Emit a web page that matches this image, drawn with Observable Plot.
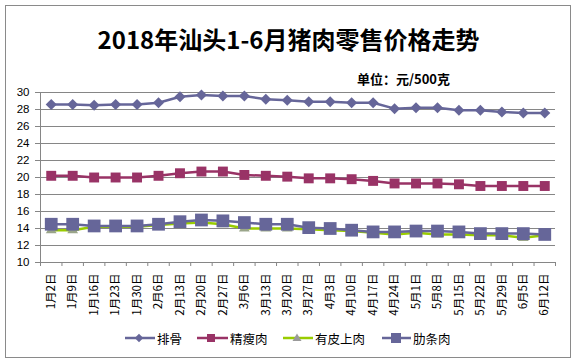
<!DOCTYPE html>
<html><head><meta charset="utf-8">
<script src="https://cdn.jsdelivr.net/npm/d3@7"></script>
<script src="https://cdn.jsdelivr.net/npm/@observablehq/plot@0.6"></script>
<style>
body{margin:0;background:#fff;}
#wrap{position:relative;width:577px;height:364px;font-family:"Noto Sans CJK SC",sans-serif;overflow:hidden;}
#border{position:absolute;left:5px;top:5px;width:566px;height:353px;border:1px solid #8a8a8a;box-sizing:border-box;}
#title{position:absolute;left:0;width:577px;top:23px;text-align:center;font-weight:bold;font-size:24px;line-height:32px;color:#000;}
#unit{position:absolute;left:357px;top:70px;font-weight:bold;font-size:13px;line-height:18px;color:#000;}
#chart{position:absolute;left:0;top:0;}
.leg{position:absolute;top:329px;height:18px;display:flex;align-items:center;font-size:12.5px;color:#000;}
.leg svg{margin-right:2px;}
</style></head>
<body>
<div id="wrap">
<div id="border"></div>
<div id="chart"></div>
<div id="title">2018年汕头1-6月猪肉零售价格走势</div>
<div id="unit">单位：元/500克</div>
<div id="legend"></div>
</div>
<script>
const dates = ["1月2日","1月9日","1月16日","1月23日","1月30日","2月6日","2月13日","2月20日","2月27日","3月6日","3月13日","3月20日","3月27日","4月3日","4月10日","4月17日","4月24日","5月1日","5月8日","5月15日","5月22日","5月29日","6月5日","6月12日"];
const paigu    = [28.6,28.6,28.5,28.6,28.6,28.8,29.5,29.7,29.6,29.6,29.2,29.1,28.9,28.9,28.8,28.8,28.1,28.2,28.2,27.9,27.9,27.7,27.6,27.6];
const jingshou = [20.2,20.2,20.0,20.0,20.0,20.2,20.5,20.7,20.7,20.3,20.2,20.1,19.9,19.9,19.8,19.6,19.3,19.3,19.3,19.2,19.0,19.0,19.0,19.0];
const youpi    = [13.8,13.8,14.2,14.2,14.2,14.4,14.6,14.7,14.5,14.0,14.0,14.0,13.9,13.8,13.7,13.5,13.3,13.5,13.3,13.3,13.2,13.2,12.9,13.2];
const leitiao  = [14.5,14.5,14.3,14.3,14.3,14.5,14.8,15.0,14.9,14.7,14.5,14.5,14.1,14.0,13.8,13.6,13.6,13.7,13.7,13.6,13.4,13.4,13.4,13.3];
const seriesNames = ["排骨","精瘦肉","有皮上肉","肋条肉"];
const yTicks = [10,12,14,16,18,20,22,24,26,28,30];

const colors = {"排骨":"#666699","精瘦肉":"#993366","有皮上肉":"#99CC00","肋条肉":"#666699"};
const vals = {"排骨":paigu,"精瘦肉":jingshou,"有皮上肉":youpi,"肋条肉":leitiao};
const rows = name => dates.map((d,i)=>({i, date:d, v: vals[name][i]}));
const X = d => d.i + 0.5;
const grid = "#868686";

const marks = [
  Plot.gridY(yTicks, {stroke: grid, strokeOpacity: 1, strokeWidth: 1}),
  Plot.axisY(yTicks, {tickSize: 5, tickPadding: 6, stroke: grid, label: null, fontSize: 11.5, fontFamily: "Liberation Sans, Arial, sans-serif", fill:"#000"}),
  Plot.axisX(d3.range(25), {tickSize: 4, tickFormat: () => "", stroke: grid, label: null}),
  Plot.axisX(d3.range(24).map(i => i + 0.5), {tickSize: 0, tickRotate: -90, tickPadding: 11, tickFormat: v => dates[Math.floor(v)], label: null, fontSize: 11.5, fontFamily: "Noto Sans CJK SC, sans-serif", fill:"#000"}),
  Plot.ruleX([0], {stroke: grid}),
  Plot.ruleY([10], {stroke: grid}),
];
// 排骨
marks.push(Plot.line(rows("排骨"), {x: X, y: "v", stroke: colors["排骨"], strokeWidth: 2.5}));
marks.push(Plot.dot(rows("排骨"), {x: X, y: "v", symbol: "square", rotate: 45, r: 4.4, fill: colors["排骨"], stroke: "none"}));
// 精瘦肉
marks.push(Plot.line(rows("精瘦肉"), {x: X, y: "v", stroke: colors["精瘦肉"], strokeWidth: 2.5}));
marks.push(Plot.dot(rows("精瘦肉"), {x: X, y: "v", symbol: "square", r: 5.6, fill: colors["精瘦肉"], stroke: "none"}));
// 有皮上肉
marks.push(Plot.line(rows("有皮上肉"), {x: X, y: "v", stroke: colors["有皮上肉"], strokeWidth: 2.5}));
marks.push(Plot.dot(rows("有皮上肉"), {x: X, y: "v", symbol: "triangle", r: 4, fill: "#9aa58a", stroke: "none"}));
// 肋条肉
marks.push(Plot.line(rows("肋条肉"), {x: X, y: "v", stroke: colors["肋条肉"], strokeWidth: 2.5}));
marks.push(Plot.dot(rows("肋条肉"), {x: X, y: "v", symbol: "square", r: 7.2, fill: colors["肋条肉"], stroke: "none"}));

const chart = Plot.plot({
  width: 577, height: 364,
  marginLeft: 40, marginRight: 22, marginTop: 92, marginBottom: 102,
  x: {type: "linear", domain: [0, 24], axis: null},
  y: {domain: [10, 30], axis: null},
  style: {background: "transparent", overflow: "visible"},
  marks
});
document.getElementById("chart").appendChild(chart);

// legend
const legPos = [{x:125, tx:157},{x:197, tx:230},{x:283, tx:315},{x:382, tx:413}];
const sym = {
  "排骨": '<rect x="11" y="5" width="6" height="6" transform="rotate(45 14 8)" fill="#666699"/>',
  "精瘦肉": '<rect x="10" y="4" width="8" height="8" fill="#993366"/>',
  "有皮上肉": '<path d="M14 3.5 L18.5 11 L9.5 11 Z" fill="#9a9a9a"/>',
  "肋条肉": '<rect x="9" y="3" width="10" height="10" fill="#666699"/>'
};
const lg = document.getElementById("legend");
seriesNames.forEach((n, k) => {
  const el = document.createElement("div");
  el.className = "leg";
  el.style.left = legPos[k].x + "px";
  el.innerHTML = `<svg width="${legPos[k].tx - legPos[k].x - 2}" height="16"><line x1="0" x2="${legPos[k].tx - legPos[k].x - 2}" y1="8" y2="8" stroke="${colors[n]}" stroke-width="2.5"/>${sym[n]}</svg><span>${n}</span>`;
  lg.appendChild(el);
});
</script>
</body></html>
